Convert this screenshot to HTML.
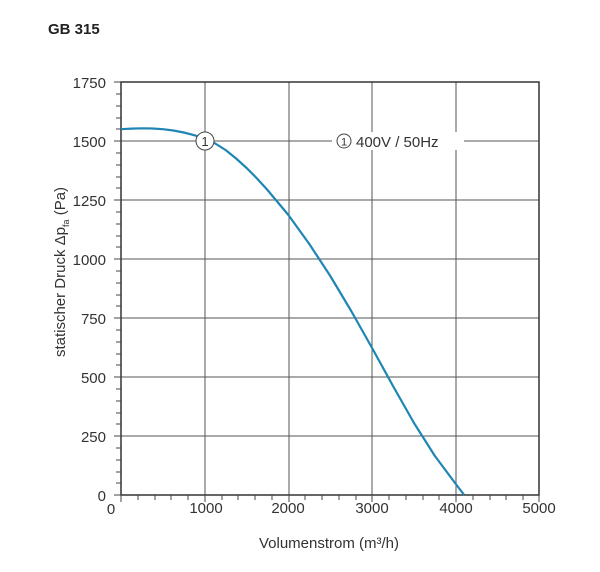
<!DOCTYPE html>
<html><head><meta charset="utf-8"><style>
body{margin:0;background:#fff;}
svg{display:block;font-family:"Liberation Sans",sans-serif;}
</style></head><body>
<svg width="600" height="572" viewBox="0 0 600 572">
<text x="48" y="34" font-size="15" font-weight="bold" fill="#222">GB 315</text>
<g stroke="#555" stroke-width="1">
<line x1="205" y1="82" x2="205" y2="495"/>
<line x1="289" y1="82" x2="289" y2="495"/>
<line x1="372" y1="82" x2="372" y2="495"/>
<line x1="456" y1="82" x2="456" y2="495"/>
<line x1="121" y1="141" x2="539" y2="141"/>
<line x1="121" y1="200" x2="539" y2="200"/>
<line x1="121" y1="259" x2="539" y2="259"/>
<line x1="121" y1="318" x2="539" y2="318"/>
<line x1="121" y1="377" x2="539" y2="377"/>
<line x1="121" y1="436" x2="539" y2="436"/>
</g>
<rect x="121" y="82" width="418" height="413" fill="none" stroke="#333" stroke-width="1.5"/>
<g stroke="#444" stroke-width="1">
<path d="M114 82H121M116 94H121M116 106H121M116 118H121M116 129H121M114 141H121M116 153H121M116 165H121M116 177H121M116 188H121M114 200H121M116 212H121M116 224H121M116 236H121M116 247H121M114 259H121M116 271H121M116 283H121M116 295H121M116 306H121M114 318H121M116 330H121M116 342H121M116 354H121M116 365H121M114 377H121M116 389H121M116 401H121M116 413H121M116 424H121M114 436H121M116 448H121M116 460H121M116 472H121M116 483H121M114 495H121"/>
<path d="M121 495V502M138 495V500M155 495V500M171 495V500M188 495V500M205 495V502M222 495V500M238 495V500M255 495V500M272 495V500M289 495V502M305 495V500M322 495V500M339 495V500M356 495V500M372 495V502M389 495V500M406 495V500M423 495V500M439 495V500M456 495V502M473 495V500M490 495V500M506 495V500M523 495V500M539 495V502"/>
</g>
<polyline points="121,129.2 131.5,128.6 141.9,128.3 152.4,128.5 162.9,129.2 173.3,130.5 183.8,132.5 194.2,135.2 204.7,138.6 215.2,143.5 225.6,150 236.1,158.5 246.6,168 257,178.5 267.5,190 288.4,215 309.3,244 330.3,276 351.2,311 372.1,348 393,386 414,423 434.9,456 455.8,484 464.2,495" fill="none" stroke="#1f86b4" stroke-width="2.2" stroke-linejoin="round"/>
<circle cx="205" cy="141" r="9" fill="#fff" stroke="#444" stroke-width="1"/>
<text x="205" y="146" font-size="13" text-anchor="middle" fill="#333">1</text>
<rect x="332" y="132" width="132" height="18" fill="#fff"/>
<circle cx="344" cy="141" r="7" fill="#fff" stroke="#444" stroke-width="1"/>
<text x="344" y="145.5" font-size="11" text-anchor="middle" fill="#333">1</text>
<text x="356" y="147" font-size="15" fill="#333">400V / 50Hz</text>
<g font-size="15" fill="#333" text-anchor="end">
<text x="106" y="88">1750</text>
<text x="106" y="147">1500</text>
<text x="106" y="206">1250</text>
<text x="106" y="265">1000</text>
<text x="106" y="324">750</text>
<text x="106" y="383">500</text>
<text x="106" y="442">250</text>
<text x="106" y="501">0</text>
</g>
<g font-size="15" fill="#333" text-anchor="middle">
<text x="111" y="514">0</text>
<text x="206" y="513">1000</text>
<text x="288" y="513">2000</text>
<text x="372" y="513">3000</text>
<text x="456" y="513">4000</text>
<text x="539" y="513">5000</text>
</g>
<text x="329" y="548" font-size="15" fill="#333" text-anchor="middle">Volumenstrom (m³/h)</text>
<text transform="translate(65,272) rotate(-90)" font-size="15" fill="#333" text-anchor="middle">statischer Druck Δp<tspan font-size="9" dy="4">fa</tspan><tspan dy="-4"> (Pa)</tspan></text>
</svg>
</body></html>
